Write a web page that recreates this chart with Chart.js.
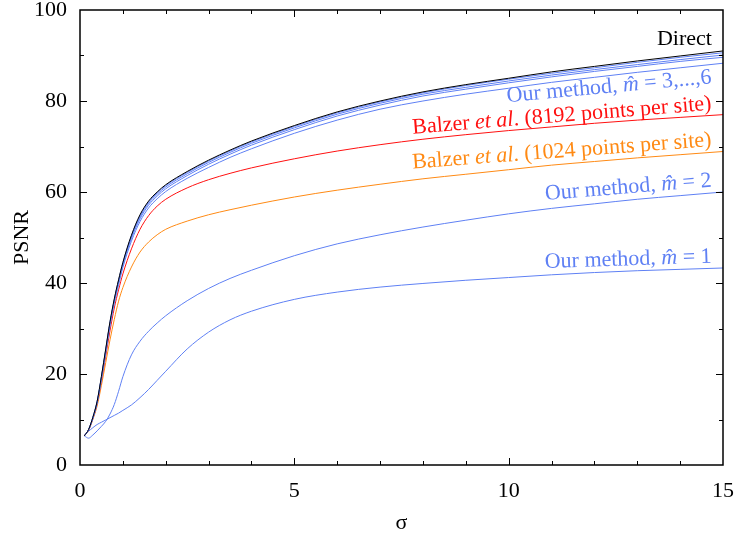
<!DOCTYPE html>
<html>
<head>
<meta charset="utf-8">
<script src="https://cdn.jsdelivr.net/npm/chart.js@4/dist/chart.umd.min.js"></script>
<style>
  html, body { margin: 0; padding: 0; background: #fff; }
</style>
</head>
<body>
<canvas id="psnrChart" width="739" height="537"></canvas>
<script>
const sigma = [0.1, 0.2, 0.3, 0.4, 0.5, 0.6, 0.7, 0.8, 0.9, 1.0, 1.2, 1.4, 1.6, 1.8, 2.0, 2.5, 3.0, 3.5, 4.0, 5, 6, 7, 8, 9, 10, 11, 12, 13, 14, 15];

const direct = [6.4, 7.8, 10.5, 14.0, 19.5, 25.5, 31.5, 36.5, 40.7, 44.5, 50.5, 55.0, 58.0, 60.0, 61.6, 64.5, 67.0, 69.2, 71.2, 74.6, 77.6, 80.0, 82.0, 83.6, 85.0, 86.4, 87.6, 88.8, 89.9, 91.0];
const ourM6 = [6.4, 7.8, 10.5, 14.0, 19.4, 25.4, 31.4, 36.4, 40.6, 44.4, 50.4, 54.8, 57.8, 59.8, 61.4, 64.3, 66.8, 69.0, 71.0, 74.4, 77.4, 79.8, 81.8, 83.4, 84.8, 86.1, 87.3, 88.5, 89.6, 90.6];
const ourM5 = [6.4, 7.8, 10.4, 13.9, 19.3, 25.2, 31.2, 36.2, 40.4, 44.2, 50.1, 54.5, 57.5, 59.5, 61.1, 64.0, 66.5, 68.7, 70.7, 74.1, 77.1, 79.5, 81.5, 83.0, 84.4, 85.7, 86.9, 88.0, 89.1, 90.1];
const ourM4 = [6.4, 7.7, 10.3, 13.8, 19.1, 25.0, 31.0, 36.0, 40.1, 43.9, 49.8, 54.1, 57.1, 59.1, 60.7, 63.6, 66.1, 68.3, 70.3, 73.7, 76.7, 79.1, 81.1, 82.6, 84.0, 85.3, 86.5, 87.6, 88.7, 89.6];
const ourM3 = [6.4, 7.7, 10.2, 13.6, 18.8, 24.6, 30.5, 35.5, 39.6, 43.4, 49.2, 53.5, 56.5, 58.5, 60.1, 63.0, 65.4, 67.6, 69.5, 72.9, 75.8, 78.2, 80.0, 81.5, 82.8, 84.1, 85.2, 86.3, 87.3, 88.3];
const balzer8192 = [6.4, 7.7, 10.2, 13.5, 18.5, 24.0, 29.5, 34.5, 38.5, 42.0, 47.5, 51.8, 54.8, 56.9, 58.4, 60.9, 62.7, 64.1, 65.3, 67.3, 69.0, 70.4, 71.6, 72.6, 73.5, 74.3, 75.1, 75.8, 76.4, 77.0];
const balzer1024 = [6.4, 7.6, 10.0, 13.0, 17.5, 22.5, 27.5, 32.0, 36.0, 39.0, 43.5, 46.8, 49.0, 50.6, 51.8, 53.6, 55.0, 56.1, 57.1, 58.9, 60.4, 61.7, 62.9, 63.9, 64.9, 65.9, 66.7, 67.5, 68.2, 68.9];
const ourM2 = [6.4, 5.9, 6.6, 7.5, 8.5, 9.6, 11.2, 13.3, 16.2, 19.4, 24.2, 27.2, 29.4, 31.2, 32.8, 36.1, 38.8, 41.0, 42.8, 46.0, 48.6, 50.6, 52.3, 53.8, 55.2, 56.4, 57.4, 58.4, 59.2, 60.0];
const ourM1 = [6.4, 7.4, 8.2, 8.9, 9.4, 9.9, 10.4, 10.9, 11.4, 12.0, 13.2, 14.8, 16.6, 18.6, 20.6, 25.5, 29.2, 31.9, 33.8, 36.4, 38.0, 39.1, 39.9, 40.6, 41.2, 41.8, 42.3, 42.7, 43.0, 43.3];

const BLUE = '#5f80f4';
const RED = '#ff1010';
const ORANGE = '#ff8a14';
const FONT = '"Liberation Serif", "Times New Roman", serif';

const toPoints = vals => vals.map((v, i) => ({ x: sigma[i], y: v }));

function series(values, color) {
    return {
        data: toPoints(values),
        borderColor: color,
        borderWidth: 1,
        pointRadius: 0,
        fill: false,
        cubicInterpolationMode: 'monotone'
    };
}

// text next to the curves: anchor is the right end of the baseline
const curveLabels = [
    { x: 14.74, y: 92.3, angle: 0, color: '#000', parts: [{ t: 'Direct' }] },
    { x: 14.74, y: 83.9, angle: 5.3, color: BLUE, parts: [{ t: 'Our method, ' }, { t: 'm\u0302', italic: true }, { t: ' = 3,...,6' }] },
    { x: 14.74, y: 78.1, angle: 4.6, color: RED, parts: [{ t: 'Balzer ' }, { t: 'et al', italic: true }, { t: '. (8192 points per site)' }] },
    { x: 14.74, y: 70.1, angle: 4.3, color: ORANGE, parts: [{ t: 'Balzer ' }, { t: 'et al', italic: true }, { t: '. (1024 points per site)' }] },
    { x: 14.74, y: 61.2, angle: 4.6, color: BLUE, parts: [{ t: 'Our method, ' }, { t: 'm\u0302', italic: true }, { t: ' = 2' }] },
    { x: 14.74, y: 44.5, angle: 1.9, color: BLUE, parts: [{ t: 'Our method, ' }, { t: 'm\u0302', italic: true }, { t: ' = 1' }] }
];

const frameTicks = {
    id: 'frameTicks',
    afterDraw(chart) {
        const { ctx, chartArea: a, scales: { x, y } } = chart;
        ctx.save();
        ctx.strokeStyle = '#000';
        ctx.lineWidth = 1;
        ctx.beginPath();
        for (let v = 1; v < 15; v++) {
            const len = v % 5 === 0 ? 7 : 4;
            const px = Math.round(x.getPixelForValue(v)) + 0.5;
            ctx.moveTo(px, a.bottom); ctx.lineTo(px, a.bottom - len);
            ctx.moveTo(px, a.top); ctx.lineTo(px, a.top + len);
        }
        for (let v = 10; v < 100; v += 10) {
            const len = v % 20 === 0 ? 7 : 4;
            const py = Math.round(y.getPixelForValue(v)) + 0.5;
            ctx.moveTo(a.left, py); ctx.lineTo(a.left + len, py);
            ctx.moveTo(a.right, py); ctx.lineTo(a.right - len, py);
        }
        ctx.stroke();
        ctx.lineWidth = 1.5;
        ctx.strokeRect(a.left, a.top, a.right - a.left, a.bottom - a.top);
        ctx.restore();
    }
};

const labelPlugin = {
    id: 'curveLabels',
    afterDatasetsDraw(chart) {
        const { ctx, scales: { x, y } } = chart;
        curveLabels.forEach(l => {
            const px = x.getPixelForValue(l.x);
            const py = y.getPixelForValue(l.y);
            ctx.save();
            ctx.translate(px, py);
            ctx.rotate(-l.angle * Math.PI / 180);
            ctx.fillStyle = l.color;
            ctx.textBaseline = 'alphabetic';
            ctx.textAlign = 'left';
            const fonts = l.parts.map(p => (p.italic ? 'italic ' : '') + '22px ' + FONT);
            const widths = l.parts.map((p, i) => { ctx.font = fonts[i]; return ctx.measureText(p.t).width; });
            let cx = -widths.reduce((s, w) => s + w, 0);
            l.parts.forEach((p, i) => {
                ctx.font = fonts[i];
                ctx.fillText(p.t, cx, 0);
                cx += widths[i];
            });
            ctx.restore();
        });
    }
};

new Chart(document.getElementById('psnrChart'), {
    type: 'line',
    data: {
        datasets: [
            series(direct, '#000'),
            series(ourM6, BLUE),
            series(ourM5, BLUE),
            series(ourM4, BLUE),
            series(ourM3, BLUE),
            series(balzer8192, RED),
            series(balzer1024, ORANGE),
            series(ourM2, BLUE),
            series(ourM1, BLUE)
        ]
    },
    options: {
        responsive: false,
        animation: false,
        layout: { padding: { top: 10, right: 16, left: 0, bottom: 0 } },
        plugins: {
            legend: { display: false },
            tooltip: { enabled: false }
        },
        scales: {
            x: {
                type: 'linear',
                min: 0,
                max: 15,
                grid: { display: false, drawTicks: false },
                border: { display: false },
                ticks: { stepSize: 5, padding: 13, color: '#000', font: { family: FONT, size: 22 } },
                title: { display: true, text: 'σ', color: '#000', font: { family: FONT, size: 22 }, padding: { top: 0, bottom: 1 } },
                afterFit(s) { s.height = 72; s.paddingLeft = 0; s.paddingRight = 0; }
            },
            y: {
                min: 0,
                max: 100,
                grid: { display: false, drawTicks: false },
                border: { display: false },
                ticks: { stepSize: 20, padding: 13, color: '#000', font: { family: FONT, size: 22 } },
                title: { display: true, text: 'PSNR', color: '#000', font: { family: FONT, size: 22 }, padding: { top: 9, bottom: 0 } },
                afterFit(s) { s.width = 80; s.paddingTop = 0; s.paddingBottom = 0; }
            }
        }
    },
    plugins: [frameTicks, labelPlugin]
});
</script>
</body>
</html>
